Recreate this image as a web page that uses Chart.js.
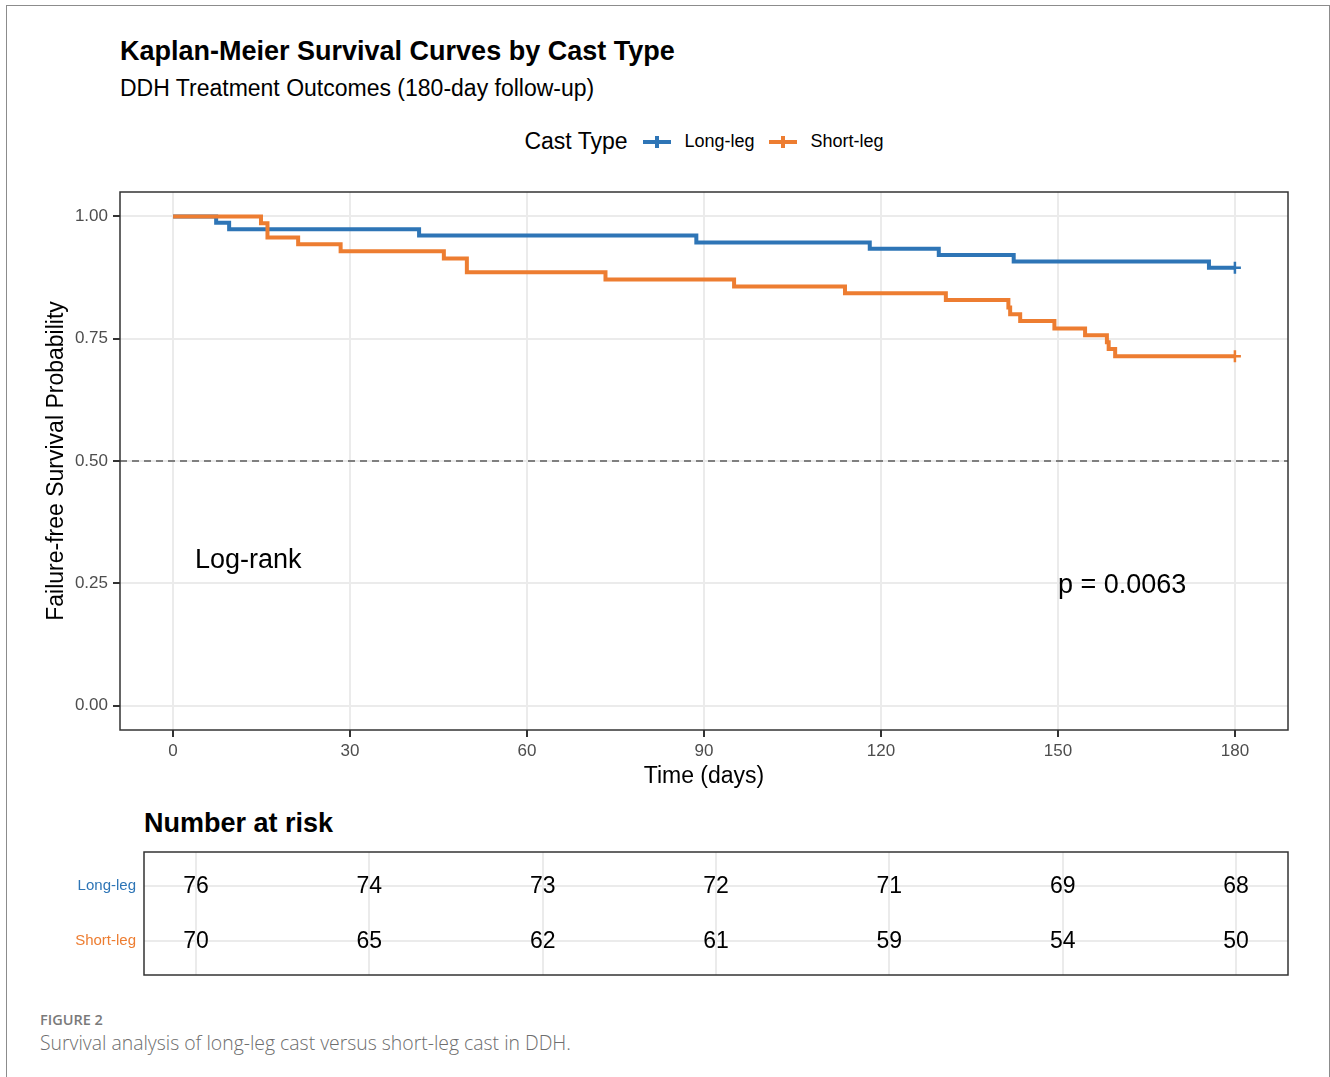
<!DOCTYPE html>
<html>
<head>
<meta charset="utf-8">
<script src="https://cdn.jsdelivr.net/npm/chart.js@4.4.1/dist/chart.umd.min.js"></script>
<style>
  body { margin: 0; background: #fff; font-family: 'Liberation Sans', Arial, sans-serif; }
  #frame { position: absolute; left: 6px; top: 5px; width: 1322px; height: 1090px; border: 1px solid #8c8c8c; border-bottom: none; }
  .abs { position: absolute; white-space: nowrap; }
  #title { left: 120px; top: 36px; font-size: 27px; font-weight: bold; color: #000; }
  #subtitle { left: 120px; top: 75px; font-size: 23px; color: #000; }
  #legend { left: 120px; top: 128px; width: 1168px; text-align: center; font-size: 18px; color: #000; }
  #legend .ttl { font-size: 23px; margin-right: 15px; vertical-align: middle; }
  #legend .lab { vertical-align: middle; margin-right: 14px; }
  .key { display: inline-block; position: relative; width: 28px; height: 4px; vertical-align: middle; margin-right: 14px; }
  .key i { position: absolute; left: 12px; top: -4px; width: 4px; height: 12px; }
  #riskTitle { left: 144px; top: 808px; font-size: 27px; font-weight: bold; color: #000; }
  #figlab { left: 40px; top: 1010px; font-family: 'Open Sans', sans-serif; font-size: 14.5px; font-weight: 600; color: #7a7a7a; }
  #caption { left: 40px; top: 1029px; font-family: 'Open Sans', sans-serif; font-size: 19.4px; font-weight: 300; color: #6d6d6d; }
  #km { position: absolute; left: 0; top: 180px; }
  #risk { position: absolute; left: 0; top: 840px; }
</style>
</head>
<body>
<div id="frame"></div>
<div class="abs" id="title">Kaplan-Meier Survival Curves by Cast Type</div>
<div class="abs" id="subtitle">DDH Treatment Outcomes (180-day follow-up)</div>
<div class="abs" id="legend">
  <span class="ttl">Cast Type</span><span class="key" style="background:#2E75B6"><i style="background:#2E75B6"></i></span><span class="lab">Long-leg</span><span class="key" style="background:#ED7D31"><i style="background:#ED7D31"></i></span><span class="lab" style="margin-right:0">Short-leg</span>
</div>
<canvas id="km" width="1310" height="620"></canvas>
<div class="abs" id="riskTitle">Number at risk</div>
<canvas id="risk" width="1310" height="145"></canvas>
<div class="abs" id="figlab">FIGURE 2</div>
<div class="abs" id="caption">Survival analysis of long-leg cast versus short-leg cast in DDH.</div>
<script>
// step times (days) and survival estimates
const longTimes = [0, 7.3, 9.5, 41.7, 88.7, 118.1, 129.8, 142.5, 175.6, 180];
const longSurv = [1, 0.987, 0.974, 0.961, 0.947, 0.934, 0.921, 0.908, 0.895, 0.895];
const shortTimes = [0, 14.9, 16.0, 21.2, 28.4, 45.9, 49.8, 73.3, 95.1, 113.9, 131.0, 141.6, 141.9, 143.6, 149.4, 154.6, 158.3, 158.6, 159.7, 180];
const shortSurv = [1, 0.986, 0.957, 0.943, 0.929, 0.914, 0.886, 0.871, 0.857, 0.843, 0.829, 0.814, 0.800, 0.786, 0.771, 0.757, 0.743, 0.729, 0.714, 0.714];

const xTicks = [0, 30, 60, 90, 120, 150, 180];
const yTicks = [0, 0.25, 0.5, 0.75, 1];
const medianLine = 0.5;

// number at risk table
const riskTimes = [0, 30, 60, 90, 120, 150, 180];
const riskLong = [76, 74, 73, 72, 71, 69, 68];
const riskShort = [70, 65, 62, 61, 59, 54, 50];

const pText = 'p = 0.0063';

const BLUE = '#2E75B6';
const ORANGE = '#ED7D31';
const FONT = "'Liberation Sans', Arial, sans-serif";

function pts(xs, ys) {
  return xs.map((x, i) => ({ x: x, y: ys[i] }));
}
function censorRadius(xs) {
  return xs.map((x, i) => i === xs.length - 1 ? 6 : 0);
}
// stop the scales from pushing the panel inwards for their end labels
function noPad(s) {
  s.paddingTop = 0; s.paddingBottom = 0; s.paddingLeft = 0; s.paddingRight = 0;
}

const panelBorder = {
  id: 'panelBorder',
  afterDraw(chart) {
    const a = chart.chartArea, c = chart.ctx;
    c.save();
    c.strokeStyle = '#333';
    c.lineWidth = 1.5;
    c.strokeRect(a.left, a.top, a.right - a.left, a.bottom - a.top);
    c.restore();
  }
};

const kmText = {
  id: 'kmText',
  afterDatasetsDraw(chart) {
    const c = chart.ctx, xs = chart.scales.x, ys = chart.scales.y;
    c.save();
    c.font = '27px ' + FONT;
    c.fillStyle = '#000';
    c.textBaseline = 'middle';
    c.textAlign = 'left';
    c.fillText('Log-rank', xs.getPixelForValue(3.7), ys.getPixelForValue(0.297));
    c.fillText(pText, xs.getPixelForValue(150), ys.getPixelForValue(0.246));
    c.restore();
  }
};

new Chart(document.getElementById('km'), {
  type: 'line',
  data: {
    datasets: [
      {
        label: 'Long-leg',
        data: pts(longTimes, longSurv),
        borderColor: BLUE,
        backgroundColor: BLUE,
        borderWidth: 4,
        stepped: true,
        pointStyle: 'cross',
        pointRadius: censorRadius(longTimes),
        pointBorderWidth: 2.5,
        pointBorderColor: BLUE,
        order: 2
      },
      {
        label: 'Short-leg',
        data: pts(shortTimes, shortSurv),
        borderColor: ORANGE,
        backgroundColor: ORANGE,
        borderWidth: 4,
        stepped: true,
        pointStyle: 'cross',
        pointRadius: censorRadius(shortTimes),
        pointBorderWidth: 2.5,
        pointBorderColor: ORANGE,
        order: 1
      },
      {
        label: 'median',
        data: [{ x: -9, y: medianLine }, { x: 189, y: medianLine }],
        borderColor: '#7f7f7f',
        borderWidth: 2,
        borderDash: [7, 5],
        pointRadius: 0,
        order: 3
      }
    ]
  },
  options: {
    responsive: false,
    animation: false,
    layout: { padding: { top: 12, right: 22, left: 0, bottom: 0 } },
    plugins: { legend: { display: false }, tooltip: { enabled: false } },
    scales: {
      x: {
        type: 'linear',
        min: -9,
        max: 189,
        afterBuildTicks: s => { s.ticks = xTicks.map(v => ({ value: v })); },
        afterFit: s => { s.height = 70; noPad(s); },
        grid: { color: '#ebebeb', lineWidth: 2, tickColor: '#333', tickWidth: 2, tickLength: 7 },
        border: { display: false },
        ticks: { color: '#4d4d4d', font: { family: FONT, size: 17 }, padding: 4, maxRotation: 0 },
        title: { display: true, text: 'Time (days)', color: '#000', font: { family: FONT, size: 23 }, padding: { top: 0, bottom: 10 } }
      },
      y: {
        min: -0.05,
        max: 1.05,
        afterBuildTicks: s => { s.ticks = yTicks.map(v => ({ value: v })); },
        afterFit: s => { s.width = 120; noPad(s); },
        grid: { color: '#ebebeb', lineWidth: 2, tickColor: '#333', tickWidth: 2, tickLength: 7 },
        border: { display: false },
        ticks: { color: '#4d4d4d', font: { family: FONT, size: 17 }, padding: 5, callback: v => v.toFixed(2) },
        title: { display: true, text: 'Failure-free Survival Probability', color: '#000', font: { family: FONT, size: 23 }, padding: { top: 43, bottom: 0 } }
      }
    }
  },
  plugins: [kmText, panelBorder]
});

const riskNumbers = {
  id: 'riskNumbers',
  afterDatasetsDraw(chart) {
    const c = chart.ctx, xs = chart.scales.x, ys = chart.scales.y;
    c.save();
    c.font = '23px ' + FONT;
    c.fillStyle = '#000';
    c.textAlign = 'center';
    c.textBaseline = 'middle';
    riskTimes.forEach((t, i) => {
      c.fillText(String(riskLong[i]), xs.getPixelForValue(t), ys.getPixelForValue(2) + 1);
      c.fillText(String(riskShort[i]), xs.getPixelForValue(t), ys.getPixelForValue(1) + 1);
    });
    c.restore();
  }
};

new Chart(document.getElementById('risk'), {
  type: 'scatter',
  data: { datasets: [{ data: [], pointRadius: 0 }] },
  options: {
    responsive: false,
    animation: false,
    layout: { padding: { top: 12, right: 22, left: 0, bottom: 0 } },
    plugins: { legend: { display: false }, tooltip: { enabled: false } },
    scales: {
      x: {
        type: 'linear',
        min: -9,
        max: 189,
        afterBuildTicks: s => { s.ticks = riskTimes.map(v => ({ value: v })); },
        afterFit: s => { s.height = 10; noPad(s); },
        grid: { color: '#ebebeb', lineWidth: 2, drawTicks: false },
        border: { display: false },
        ticks: { display: false }
      },
      y: {
        type: 'linear',
        min: 0.38,
        max: 2.62,
        afterBuildTicks: s => { s.ticks = [{ value: 1 }, { value: 2 }]; },
        afterFit: s => { s.width = 144; noPad(s); },
        grid: { color: '#ebebeb', lineWidth: 2, drawTicks: false },
        border: { display: false },
        ticks: {
          padding: 8,
          font: { family: FONT, size: 15 },
          color: ctx => ctx.tick && ctx.tick.value === 2 ? BLUE : ORANGE,
          callback: v => v === 2 ? 'Long-leg' : 'Short-leg'
        }
      }
    }
  },
  plugins: [riskNumbers, panelBorder]
});
</script>
</body>
</html>
